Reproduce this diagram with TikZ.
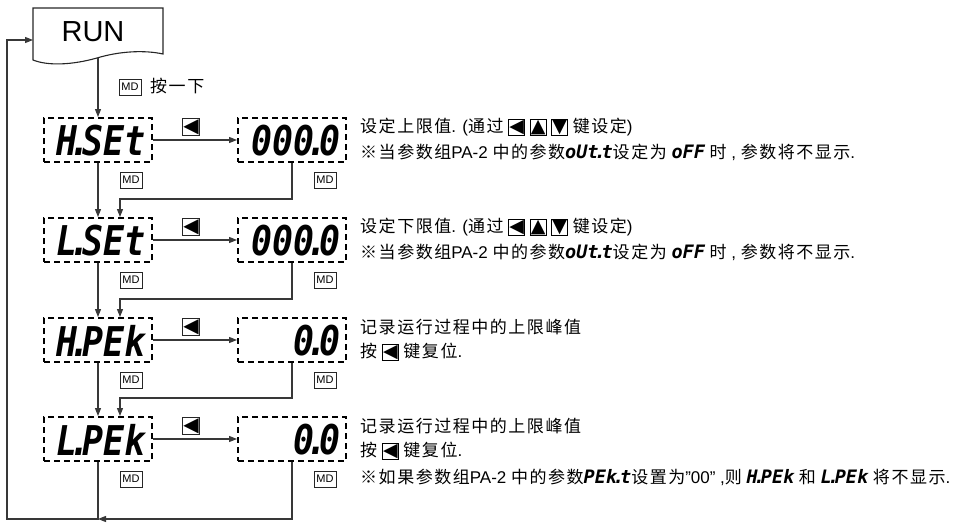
\documentclass[tikz,border=0pt]{standalone}
\usepackage{fontspec}
\usepackage{graphicx}
\setmainfont{Liberation Sans}
\newfontfamily\cjk[LetterSpace=9]{Noto Sans CJK SC}
\newfontfamily\dvs{DejaVu Sans}
\newfontfamily\segf{DejaVu Sans Mono}
\usetikzlibrary{arrows.meta}
\newcommand{\sgd}{\kern-.22em.\kern-.22em}
\newcommand{\bigseg}[1]{\scalebox{0.85}[1]{\segf\bfseries\itshape\fontsize{41}{41}\selectfont #1}}
\newcommand{\smseg}[1]{{\segf\bfseries\itshape\fontsize{18.5}{18.5}\selectfont #1}}
\newcommand{\kb}[1]{{\setlength\fboxsep{0.3pt}\setlength\fboxrule{0.8pt}\fbox{\dvs\fontsize{19}{19}\selectfont #1}}}
\newcommand{\cj}[1]{{\cjk\fontsize{17}{17}\selectfont #1}}
\begin{document}
\begin{tikzpicture}[x=1pt,y=-1pt,
  ln/.style={draw=black!78, line width=1.1pt},
  arr/.style={ln, -{Triangle[length=8pt,width=6pt]}},
  dbox/.style={draw=black, line width=2pt, dash pattern=on 6pt off 4pt, minimum width=108pt, minimum height=44pt, inner sep=0pt},
  mdbox/.style={draw=black!85, line width=0.8pt, inner sep=0pt, minimum width=22pt, minimum height=16pt, font=\fontsize{11}{11}\selectfont},
  keybox/.style={draw=black!85, line width=0.9pt, inner sep=0.4pt, font=\dvs\fontsize{20}{20}\selectfont},
  desc/.style={anchor=west, inner sep=0pt, font=\fontsize{17}{18}\selectfont},
  segl/.style={inner sep=0pt},
]
\useasboundingbox (0,0) rectangle (955,527);

% RUN shape
\draw[line width=1.1pt, draw=black!85] (33,8) -- (163,8) -- (163,54)
  .. controls (145,50) and (120,51) .. (97,58)
  .. controls (72,65) and (48,66) .. (33,60) -- cycle;
\node[font=\fontsize{29}{29}\selectfont] (run) at (93,32) {RUN};
\coordinate (runb) at (98,58);
\coordinate (rin) at (33,40);
\coordinate (bot) at (7,519);

\node[mdbox] (md0) at (130,87) {MD};
\node[anchor=west, inner sep=0pt] (t0) at (150,86) {\cj{按一下}};

% rows
\foreach \i/\c in {1/140,2/240,3/340,4/439}{
  \node[dbox] (L\i) at (98,\c) {};
  \node[dbox] (R\i) at (292,\c) {};
  \node[keybox] (k\i) at (191,\c-13) {◀};
  \node[mdbox] (ml\i) at (131,\c+40) {MD};
  \node[mdbox] (mr\i) at (325,\c+40) {MD};
  \draw[arr] (L\i.east) -- (R\i.west);
}
\node[segl] (s1) at (101,141) {\bigseg{H\sgd SEt}};
\node[segl] (s2) at (101,241) {\bigseg{L\sgd SEt}};
\node[segl] (s3) at (101,341) {\bigseg{H\sgd PEk}};
\node[segl] (s4) at (101,440) {\bigseg{L\sgd PEk}};
\node[segl, anchor=east] (v1) at (341,141) {\bigseg{000\sgd 0}};
\node[segl, anchor=east] (v2) at (341,241) {\bigseg{000\sgd 0}};
\node[segl, anchor=east] (v3) at (341,341) {\bigseg{0\sgd 0}};
\node[segl, anchor=east] (v4) at (341,440) {\bigseg{0\sgd 0}};

% vertical flow
\draw[arr] (runb) -- (L1.north);
\foreach \a/\b/\y in {1/2/199,2/3/299,3/4/398}{
  \draw[arr] (L\a.south) -- (L\b.north);
  \coordinate (j\a) at (120,\y);
  \draw[arr] (R\a.south) |- (j\a) -- (j\a |- L\b.north);
}
\draw[arr] (R4.south) |- (L4.south |- bot);
\draw[arr] (L4.south) -- (L4.south |- bot) -- (bot) |- (rin);

% descriptions
\node[desc] (d1a) at (360,127) {\cj{设定上限值}. (\cj{通过} \kb{◀} \kb{▲} \kb{▼} \cj{键设定})};
\node[desc] (d1b) at (360,152) {\cj{※当参数组}PA-2 \cj{中的参数}\smseg{oUt\sgd t}\cj{设定为} \smseg{oFF} \cj{时} , \cj{参数将不显示}.};
\node[desc] (d2a) at (360,227) {\cj{设定下限值}. (\cj{通过} \kb{◀} \kb{▲} \kb{▼} \cj{键设定})};
\node[desc] (d2b) at (360,252) {\cj{※当参数组}PA-2 \cj{中的参数}\smseg{oUt\sgd t}\cj{设定为} \smseg{oFF} \cj{时} , \cj{参数将不显示}.};
\node[desc] (d3a) at (360,327) {\cj{记录运行过程中的上限峰值}};
\node[desc] (d3b) at (360,352) {\cj{按} \kb{◀} \cj{键复位}.};
\node[desc] (d4a) at (360,426) {\cj{记录运行过程中的上限峰值}};
\node[desc] (d4b) at (360,451) {\cj{按} \kb{◀} \cj{键复位}.};
\node[desc] (d4c) at (360,477) {\cj{※如果参数组}PA-2 \cj{中的参数}\smseg{PEk\sgd t}\cj{设置为}"00" ,\cj{则} \smseg{H\sgd PEk} \cj{和} \smseg{L\sgd PEk} \cj{将不显示}.};
\end{tikzpicture}
\end{document}
